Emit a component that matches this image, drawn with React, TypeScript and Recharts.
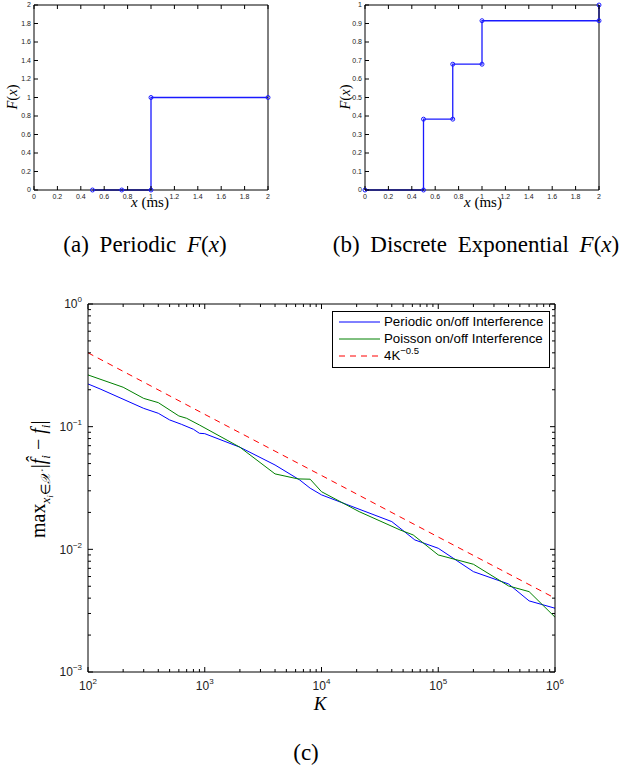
import React from 'react';
import { LineChart, Line, XAxis, YAxis, Legend } from 'recharts';

// (a) periodic CDF
const periodicX = [0.5, 0.75, 1, 1, 2];
const periodicF = [0, 0, 0, 1, 1];
// (b) discrete exponential CDF
const expX = [0, 0.5, 0.5, 0.75, 0.75, 1, 1, 2, 2];
const expF = [0, 0, 0.383, 0.383, 0.68, 0.68, 0.915, 0.915, 1];

const cdfTicksX = [0, 0.2, 0.4, 0.6, 0.8, 1, 1.2, 1.4, 1.6, 1.8, 2];
const periodicTicksY = [0, 0.2, 0.4, 0.6, 0.8, 1, 1.2, 1.4, 1.6, 1.8, 2];
const expTicksY = [0, 0.1, 0.2, 0.3, 0.4, 0.5, 0.6, 0.7, 0.8, 0.9, 1];

// (c) error vs K
const periodicK = [100, 127, 300, 400, 500, 630, 800, 900, 1000, 2000, 4000, 6500, 8000, 10000, 40000, 63000, 100000, 200000, 400000, 600000, 1000000];
const periodicErr = [0.223, 0.203, 0.141, 0.1286, 0.1135, 0.1046, 0.0952, 0.0883, 0.0877, 0.068, 0.0487, 0.0368, 0.0315, 0.0278, 0.01683, 0.01193, 0.0102, 0.00658, 0.00522, 0.0038, 0.00331];
const poissonK = [100, 200, 300, 400, 600, 700, 900, 2000, 4000, 6300, 8000, 10000, 21000, 47000, 61000, 100000, 200000, 400000, 600000, 1000000];
const poissonErr = [0.264, 0.2096, 0.17, 0.157, 0.1223, 0.117, 0.1032, 0.068, 0.0412, 0.0375, 0.0373, 0.0295, 0.0203, 0.0144, 0.0131, 0.009, 0.00756, 0.00503, 0.00452, 0.0028];
const boundK = [100, 1000, 10000, 100000, 1000000];
const boundErr = [0.4, 0.126, 0.04, 0.0126, 0.004];

const decadesK = [100, 1000, 10000, 100000, 1000000];
const decadesErr = [0.001, 0.01, 0.1, 1];
const minorSteps = [2, 3, 4, 5, 6, 7, 8, 9];

const SANS = '"Liberation Sans", Arial, sans-serif';
const SERIF = '"Liberation Serif", "Times New Roman", serif';

const withMinor = (decades: number[]) => {
  const out: number[] = [];
  decades.forEach((d, i) => {
    out.push(d);
    if (i < decades.length - 1) minorSteps.forEach((m) => out.push(d * m));
  });
  return out;
};
const kTicks = withMinor(decadesK);
const errTicks = withMinor(decadesErr);

const isDecade = (v: number) => Math.abs(Math.log10(v) - Math.round(Math.log10(v))) < 1e-9;

const zip = (xs: number[], ys: number[]) => xs.map((x, i) => ({ x, y: ys[i] }));

// tick mark drawn toward the inside of the frame, with optional label
const InTick = (props: any) => {
  const { x, y, payload, side, gap = 0, len = 4, label, fontSize = 7 } = props;
  const v = payload.value;
  const l = typeof len === 'function' ? len(v) : len;
  let ln;
  if (side === 'bottom') ln = { x1: x, y1: y - gap, x2: x, y2: y - gap - l };
  else if (side === 'top') ln = { x1: x, y1: y + gap, x2: x, y2: y + gap + l };
  else if (side === 'left') ln = { x1: x + gap, y1: y, x2: x + gap + l, y2: y };
  else ln = { x1: x - gap, y1: y, x2: x - gap - l, y2: y };
  const text = label ? label(v) : null;
  return (
    <g>
      <line {...ln} stroke="#000" strokeWidth={1} />
      {text !== null && text !== undefined && (
        side === 'bottom' ? (
          <text x={x} y={y} dy="0.8em" textAnchor="middle" fontSize={fontSize} fontFamily={SANS} fill="#222">{text}</text>
        ) : (
          <text x={x} y={y} dy="0.35em" textAnchor="end" fontSize={fontSize} fontFamily={SANS} fill="#222">{text}</text>
        )
      )}
    </g>
  );
};

const numLabel = (v: number) => String(Number(v.toFixed(1)));

const powLabel = (v: number) => {
  if (!isDecade(v)) return null;
  const e = Math.round(Math.log10(v));
  return (
    <>
      <tspan>10</tspan>
      <tspan fontSize={8} dy={-6}>{e < 0 ? '\u2212' + Math.abs(e) : e}</tspan>
    </>
  );
};

const CdfChart = ({ xs, fs, yTicks, yMax, width, left }: any) => (
  <LineChart width={width} height={215} data={zip(xs, fs)} margin={{ top: 4, right: width - left - 234 - 1, bottom: 0, left: 0 }}>
    <XAxis dataKey="x" type="number" domain={[0, 2]} ticks={cdfTicksX} height={25} tickSize={0} tickMargin={3}
      axisLine={{ stroke: '#000' }} tickLine={false} interval={0}
      tick={<InTick side="bottom" gap={3} label={numLabel} />} />
    <XAxis xAxisId="t" orientation="top" dataKey="x" type="number" domain={[0, 2]} ticks={cdfTicksX} height={1}
      tickSize={0} tickMargin={0} axisLine={{ stroke: '#000' }} tickLine={false} interval={0} tick={<InTick side="top" />} />
    <YAxis type="number" domain={[0, yMax]} ticks={yTicks} width={left} tickSize={0} tickMargin={3}
      axisLine={{ stroke: '#000' }} tickLine={false} interval={0}
      tick={<InTick side="left" gap={3} label={numLabel} />} />
    <YAxis yAxisId="r" orientation="right" type="number" domain={[0, yMax]} ticks={yTicks} width={1} tickSize={0}
      tickMargin={0} axisLine={{ stroke: '#000' }} tickLine={false} interval={0} tick={<InTick side="right" />} />
    <Line dataKey="y" type="linear" stroke="#1a1aff" strokeWidth={1.3}
      dot={{ r: 2, stroke: '#1a1aff', strokeWidth: 1, fill: 'none' }} isAnimationActive={false} />
  </LineChart>
);

const ErrLegend = () => {
  const rows = [
    { name: 'Periodic on/off Interference', color: '#0000ff', dash: undefined },
    { name: 'Poisson on/off Interference', color: '#008000', dash: undefined },
    { name: '4K', color: '#ff0000', dash: '6 5' },
  ];
  return (
    <div style={{ width: 218, height: 57, border: '1px solid #000', background: '#fff', boxSizing: 'border-box', position: 'relative', fontFamily: SANS, fontSize: 13.3 }}>
      {rows.map((r, i) => (
        <div key={i} style={{ position: 'absolute', left: 0, top: 3 + i * 17, height: 14, display: 'flex', alignItems: 'center', whiteSpace: 'nowrap' }}>
          <svg width={51} height={14}>
            <line x1={6} y1={7} x2={47} y2={7} stroke={r.color} strokeWidth={1} strokeDasharray={r.dash} />
          </svg>
          <span style={{ lineHeight: '14px' }}>
            {r.name}
            {i === 2 && <sup style={{ fontSize: 9.5, verticalAlign: 6, lineHeight: 0 }}>−0.5</sup>}
          </span>
        </div>
      ))}
    </div>
  );
};

const abs = (left: number, top: number, extra: any = {}) => ({ position: 'absolute' as const, left, top, ...extra });

export default function App() {
  return (
    <div style={{ position: 'absolute', left: 0, top: 0, width: 629, height: 768, background: '#fff', fontFamily: SERIF }}>
      <div style={abs(0, 0)}>
        <CdfChart xs={periodicX} fs={periodicF} yTicks={periodicTicksY} yMax={2} width={300} left={34} />
      </div>
      <div style={abs(320, 0)}>
        <CdfChart xs={expX} fs={expF} yTicks={expTicksY} yMax={1} width={309} left={45} />
      </div>

      {/* axis titles of the CDF plots */}
      <div style={abs(-8, 87, { width: 40, textAlign: 'center', transform: 'rotate(-90deg)', fontSize: 14.5, lineHeight: '20px' })}>
        <i>F</i>(<i>x</i>)
      </div>
      <div style={abs(325, 87, { width: 40, textAlign: 'center', transform: 'rotate(-90deg)', fontSize: 14.5, lineHeight: '20px' })}>
        <i>F</i>(<i>x</i>)
      </div>
      <div style={abs(110, 193, { width: 80, textAlign: 'center', fontSize: 15, lineHeight: '18px' })}>
        <i>x</i> (ms)
      </div>
      <div style={abs(443, 193, { width: 80, textAlign: 'center', fontSize: 15, lineHeight: '18px' })}>
        <i>x</i> (ms)
      </div>

      <div style={abs(20, 230, { width: 250, textAlign: 'center', fontSize: 23, lineHeight: '30px', wordSpacing: 5 })}>
        (a) Periodic <i>F</i>(<i>x</i>)
      </div>
      <div style={abs(316, 230, { width: 320, textAlign: 'center', fontSize: 23, lineHeight: '30px', wordSpacing: 5, whiteSpace: 'nowrap' })}>
        (b) Discrete Exponential <i>F</i>(<i>x</i>)
      </div>

      <div style={abs(0, 290)}>
        <LineChart width={629} height={430} margin={{ top: 13, right: 73, bottom: 0, left: 0 }}>
          <XAxis dataKey="x" type="number" scale="log" domain={[100, 1000000]} ticks={kTicks} allowDataOverflow
            height={48} tickSize={0} tickMargin={8} axisLine={{ stroke: '#000' }} tickLine={false} interval={0}
            tick={<InTick side="bottom" gap={8} fontSize={12} len={(v: number) => (isDecade(v) ? 5 : 3)} label={powLabel} />} />
          <XAxis xAxisId="t" orientation="top" dataKey="x" type="number" scale="log" domain={[100, 1000000]} ticks={kTicks}
            allowDataOverflow height={1} tickSize={0} tickMargin={0} axisLine={{ stroke: '#000' }} tickLine={false} interval={0}
            tick={<InTick side="top" len={(v: number) => (isDecade(v) ? 5 : 3)} />} />
          <YAxis type="number" scale="log" domain={[0.001, 1]} ticks={errTicks} allowDataOverflow width={88}
            tickSize={0} tickMargin={6} axisLine={{ stroke: '#000' }} tickLine={false} interval={0}
            tick={<InTick side="left" gap={6} fontSize={12} len={(v: number) => (isDecade(v) ? 5 : 3)} label={powLabel} />} />
          <YAxis yAxisId="r" orientation="right" type="number" scale="log" domain={[0.001, 1]} ticks={errTicks} allowDataOverflow
            width={1} tickSize={0} tickMargin={0} axisLine={{ stroke: '#000' }} tickLine={false} interval={0}
            tick={<InTick side="right" len={(v: number) => (isDecade(v) ? 5 : 3)} />} />
          <Line data={zip(periodicK, periodicErr)} dataKey="y" name="Periodic on/off Interference" type="linear"
            stroke="#0000ff" strokeWidth={1} dot={false} isAnimationActive={false} />
          <Line data={zip(poissonK, poissonErr)} dataKey="y" name="Poisson on/off Interference" type="linear"
            stroke="#008000" strokeWidth={1} dot={false} isAnimationActive={false} />
          <Line data={zip(boundK, boundErr)} dataKey="y" name="4K^-0.5" type="linear"
            stroke="#ff0000" strokeWidth={1} strokeDasharray="6 5" dot={false} isAnimationActive={false} />
          <Legend layout="vertical" align="center" verticalAlign="middle" content={<ErrLegend />}
            wrapperStyle={{ position: 'absolute', top: 21, left: 332, width: 218, height: 57 }} />
        </LineChart>
      </div>

      <div style={abs(-36, 461, { width: 160, textAlign: 'center', transform: 'rotate(-90deg)', fontSize: 20, lineHeight: '24px', whiteSpace: 'nowrap' })}>
        max<sub style={{ fontSize: 13 }}><i>x<sub style={{ fontSize: 9 }}>i</sub></i>∈<i>𝒳</i></sub> |<i>f̂</i><sub style={{ fontSize: 13 }}><i>i</i></sub> − <i>f</i><sub style={{ fontSize: 13 }}><i>i</i></sub>|
      </div>
      <div style={abs(300, 693, { width: 40, textAlign: 'center', fontSize: 19, lineHeight: '22px' })}>
        <i>K</i>
      </div>
      <div style={abs(276, 739, { width: 60, textAlign: 'center', fontSize: 23, lineHeight: '28px' })}>
        (c)
      </div>
    </div>
  );
}
